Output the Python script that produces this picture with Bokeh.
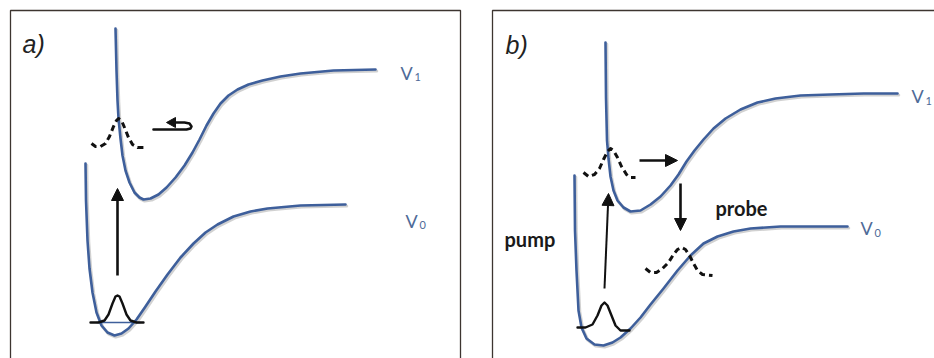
from bokeh.plotting import figure
from bokeh.models import Range1d, Arrow, NormalHead
from bokeh.core.properties import value
from bokeh.embed import file_html
from bokeh.resources import INLINE

# ---------------- data (picture units, y downwards) -------------
# panel a) potential curves
v1a_x = [115, 116, 117, 118, 120, 122, 125, 129, 134, 139, 143, 150, 158, 166, 175, 184, 192, 199, 206, 213, 220, 228, 237, 248, 262, 280, 300, 333, 375]
v1a_y = [28, 70, 100, 118, 138, 155, 170, 182, 192, 197, 199, 198, 194, 187, 177, 165, 152, 139, 125, 113, 103, 95, 89, 84, 80, 76, 73, 70, 69]
v0a_x = [85, 85.5, 87, 89, 92, 96, 101, 107, 114, 121, 128, 136, 145, 155, 167, 180, 193, 205, 217, 233, 250, 267, 300, 345]
v0a_y = [163, 200, 240, 268, 292, 312, 325, 332, 335, 333, 328, 319, 306, 291, 274, 257, 243, 232, 224, 216, 211, 208, 205, 204]
# panel a) wave packets
gsa_x = [90, 98, 104, 108, 112, 115, 117, 119, 122, 126, 130, 136, 143]
gsa_y = [322, 322, 320, 314, 303, 296, 295, 296, 303, 314, 320, 322, 322]
exa_x = [91, 95, 100, 105, 109, 113, 116, 118, 121, 124, 128, 132, 137, 144]
exa_y = [143, 146, 146, 143, 136, 126, 120, 118, 120, 127, 137, 144, 147, 147]
level_a = [96, 140, 322]
# panel a) hooked arrow
hook_x = [153, 186, 190, 191, 189, 184, 174]
hook_y = [129, 129, 128, 126, 123, 122, 122]
hook_head_x = [166, 175, 175]
hook_head_y = [122, 117, 127]

# panel b) potential curves
v1b_x = [605, 605.5, 606.5, 608, 610, 613, 617, 623, 630, 640, 650, 660, 670, 678, 686, 694, 703, 713, 725, 740, 757, 775, 800, 830, 863, 897]
v1b_y = [42, 97, 140, 158, 176, 190, 200, 207, 211, 210, 204, 196, 185, 174, 161, 150, 139, 128, 118, 109, 102, 98, 95, 94, 93, 93]
v0b_x = [574, 574.5, 576, 578, 581, 586, 594, 603, 612, 620, 630, 640, 650, 663, 677, 690, 703, 717, 733, 750, 780, 847]
v0b_y = [175, 230, 270, 310, 327, 338, 344, 345, 342, 337, 328, 317, 304, 288, 270, 255, 243, 236, 231, 228, 226, 226]
# panel b) wave packets
gsb_x = [577, 585, 592, 597, 601, 604, 607, 611, 615, 620, 629]
gsb_y = [327, 327, 324, 315, 305, 302, 305, 315, 325, 330, 330]
exb_x = [583, 588, 594, 599, 603, 607, 610, 613, 617, 621, 626, 630, 635]
exb_y = [172, 176, 174, 168, 159, 151, 148, 150, 157, 166, 174, 177, 177]
prb_x = [645, 650, 656, 662, 668, 673, 677, 681, 685, 689, 693, 697, 702, 712]
prb_y = [268, 272, 272, 268, 262, 254, 249, 247, 249, 255, 263, 270, 274, 275]

# arrows: x_start, y_start, x_end, y_end, width
arr_x0 = [117, 604, 639, 680]
arr_y0 = [275, 288, 160, 183]
arr_x1 = [117, 608, 677, 680]
arr_y1 = [188, 193, 160, 230]
arr_w = [2.6, 2.0, 2.6, 2.6]

# labels
panel_labels = ["a)", "b)"]
panel_lx = [22, 505]
panel_ly = [43, 44]
v_lab_x = [400, 405, 911, 860]
v_lab_y = [72, 220, 95, 227]
v_sub = ["1", "0", "1", "0"]
v_sub_x = [414, 419, 925, 874]
v_sub_y = [76, 224, 100, 232]
bold_labels = ["pump", "probe"]
bold_lx = [504, 715]
bold_ly = [238, 207]

# -------------------------------------------------------------------------------------
W, H = 934, 358
BLUE = "#3e5f9b"
LBLUE = "#4e6a98"
INK = "#111111"

p = figure(width=W, height=H, x_range=Range1d(0, W), y_range=Range1d(H, 0),
           output_backend="svg", toolbar_location=None, min_border=0,
           x_axis_location=None, y_axis_location=None, outline_line_color=None,
           background_fill_color="white", border_fill_color="white")
p.grid.visible = False

# panel frames
p.quad(left=[10, 492], right=[460, 945], top=[10, 10], bottom=[370, 370],
       fill_color=None, line_color="#3d3530", line_width=1.3)


def curve(xs, ys):
    p.line([x + 1.2 for x in xs], [y + 1.5 for y in ys], line_color="#9a9a9a",
           line_alpha=0.45, line_width=3.2, line_join="round", line_cap="round")
    p.line(xs, ys, line_color=BLUE, line_width=2.6, line_join="round", line_cap="round")


for xs, ys in [(v1a_x, v1a_y), (v0a_x, v0a_y), (v1b_x, v1b_y), (v0b_x, v0b_y)]:
    curve(xs, ys)

p.line([level_a[0], level_a[1]], [level_a[2], level_a[2]], line_color=BLUE, line_width=1.3)

for xs, ys in [(gsa_x, gsa_y), (gsb_x, gsb_y)]:
    p.line(xs, ys, line_color=INK, line_width=2.4, line_join="round", line_cap="round")
for xs, ys in [(exa_x, exa_y), (exb_x, exb_y), (prb_x, prb_y)]:
    p.line(xs, ys, line_color=INK, line_width=3.0, line_dash="6 4", line_join="round")

p.line(hook_x, hook_y, line_color=INK, line_width=2.6, line_join="round", line_cap="round")
p.patch(hook_head_x, hook_head_y, fill_color=INK, line_color=INK, line_width=1)

for i in range(len(arr_x0)):
    p.add_layout(Arrow(end=NormalHead(size=12, fill_color=INK, line_color=INK, line_width=1),
                       x_start=arr_x0[i], y_start=arr_y0[i], x_end=arr_x1[i], y_end=arr_y1[i],
                       line_color=INK, line_width=arr_w[i]))

p.text(x=panel_lx, y=panel_ly, text=panel_labels, text_font=value("Liberation Sans"),
       text_font_style="italic", text_font_size="25px", text_color="#222222",
       text_baseline="alphabetic", text_align="left")
p.text(x=v_lab_x, y=v_lab_y, text=["V"] * 4, text_font=value("Lato"),
       text_font_size="18px", text_color=LBLUE, text_baseline="alphabetic", text_align="left")
p.text(x=v_sub_x, y=v_sub_y, text=v_sub, text_font=value("Lato"),
       text_font_size="11px", text_color=LBLUE, text_baseline="alphabetic", text_align="left")
p.text(x=bold_lx, y=bold_ly, text=bold_labels, text_font=value("Lato"),
       text_font_style="bold", text_font_size="20px", text_color="#1a1a1a",
       text_baseline="alphabetic", text_align="left")

open("out.html", "w").write(file_html(p, INLINE))
